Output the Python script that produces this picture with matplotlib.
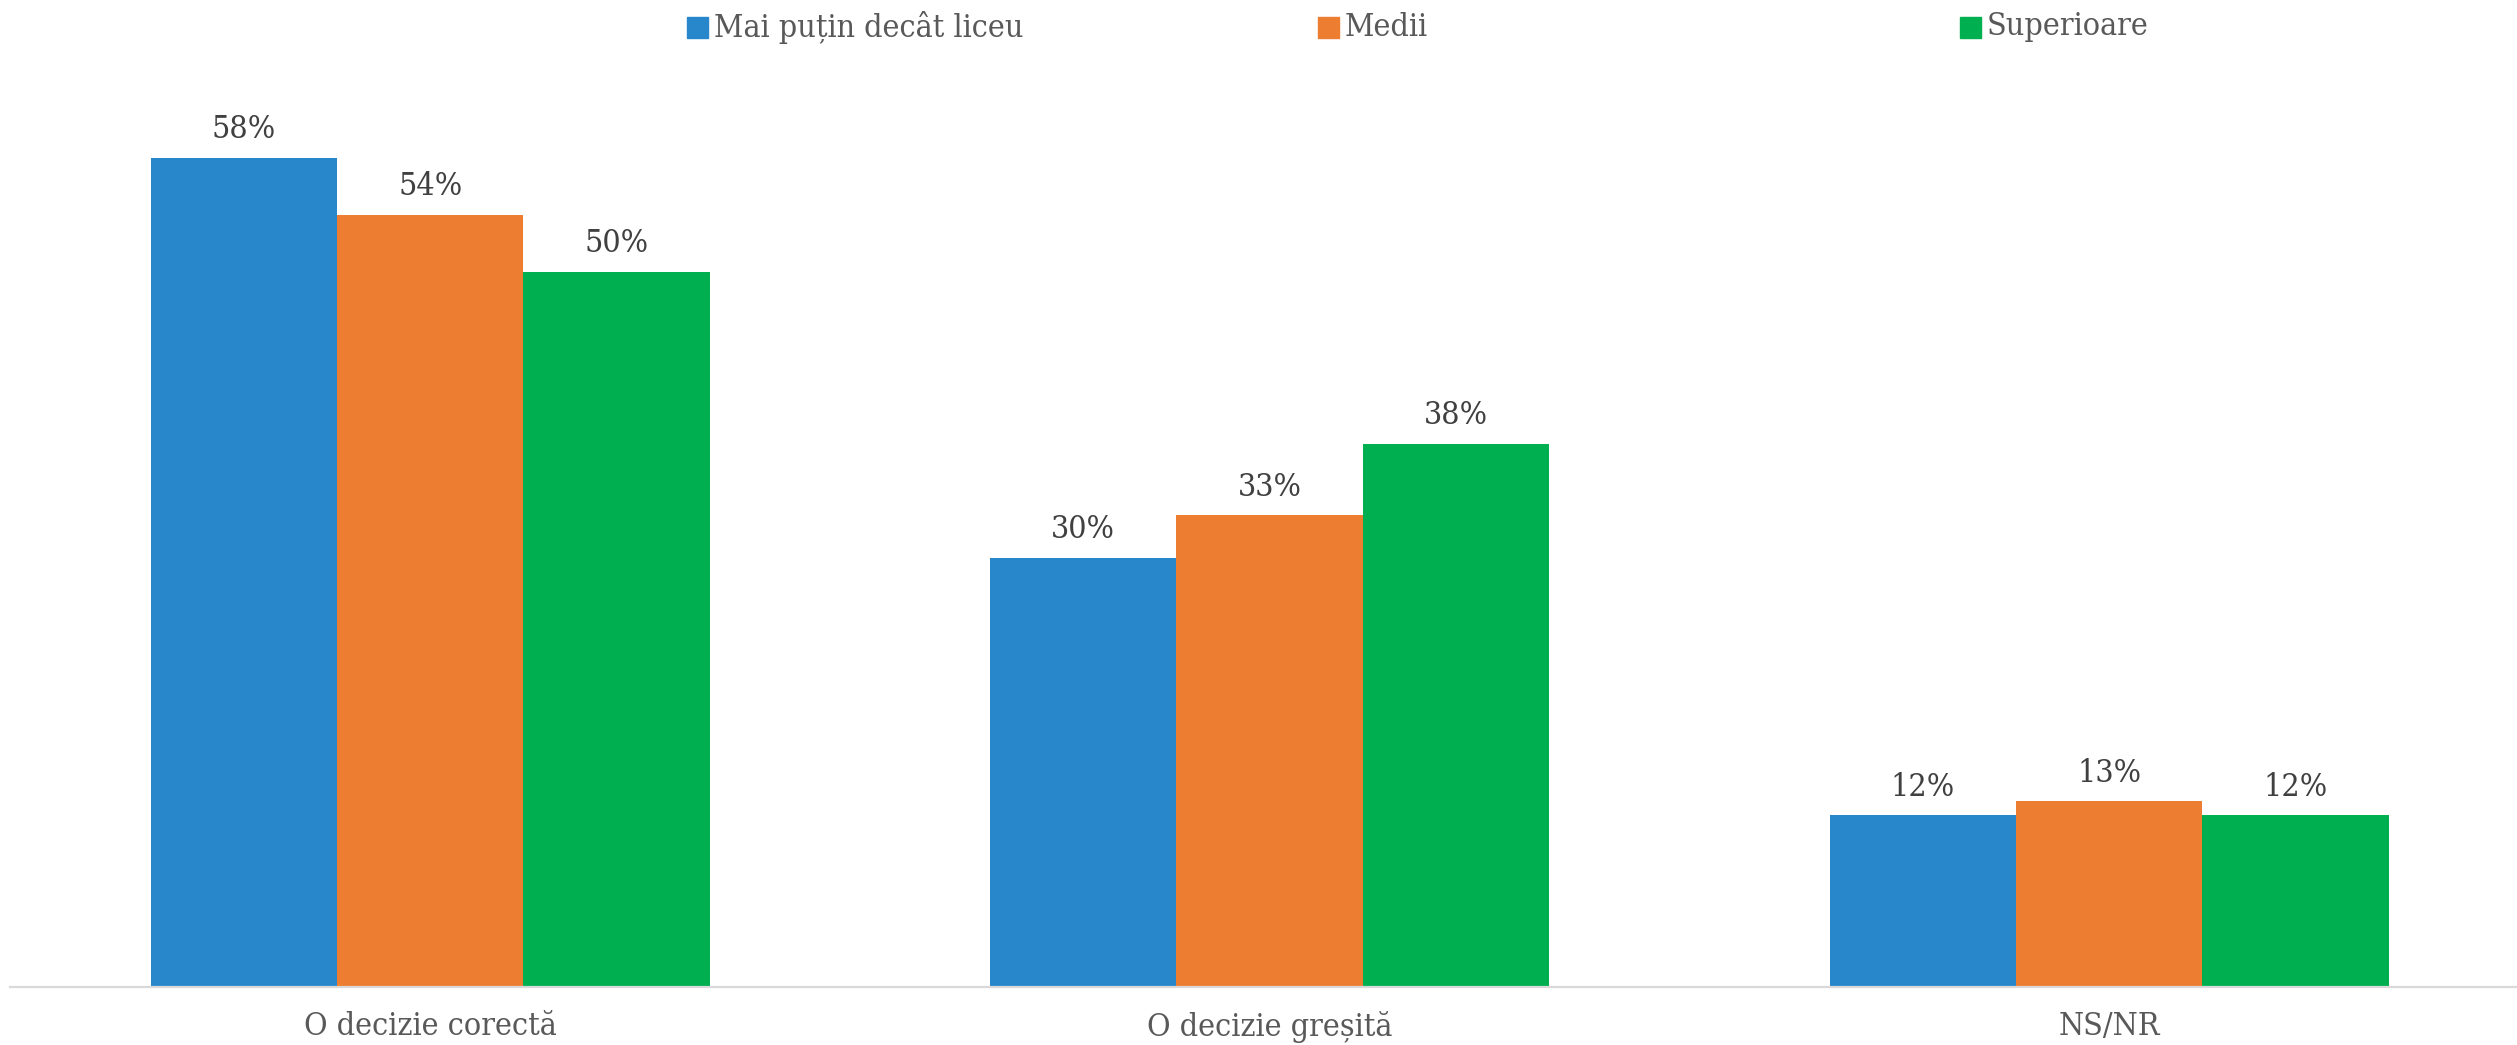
import matplotlib.pyplot as plt
import numpy as np
from matplotlib.patches import Rectangle

# data
categories = ['O decizie corectă', 'O decizie greșită', 'NS/NR']
series_names = ['Mai puțin decât liceu', 'Medii', 'Superioare']
less_than_hs = [58, 30, 12]
medium = [54, 33, 13]
higher = [50, 38, 12]
colors = ['#2886CB', '#ED7D31', '#00B050']

plt.rcParams['font.family'] = ['DejaVu Serif']
plt.rcParams['font.stretch'] = 'condensed'
fs = 23
txt_col = '#595959'

W, H = 2517, 1045
fig = plt.figure(figsize=(W/100, H/100), dpi=100)
ax = fig.add_axes([10.4/W, 1 - 987/H, 2518.5/W, (987 - 57.5)/H])

x = np.arange(len(categories))
bw = 0.222
series = [less_than_hs, medium, higher]
for i, vals in enumerate(series):
    bars = ax.bar(x + (i - 1)*bw, vals, bw, color=colors[i], linewidth=0)
    for b, v in zip(bars, vals):
        ax.annotate('%d%%' % v, (b.get_x() + b.get_width()/2, v),
                    xytext=(0, 9), textcoords='offset points',
                    ha='center', va='bottom', fontsize=fs, color='#404040')

ax.set_xlim(-0.5, 2.5)
ax.set_ylim(0, 65)
ax.set_xticks(x)
ax.set_xticklabels(categories, fontsize=fs, color=txt_col)
ax.tick_params(axis='x', length=0, pad=17)
ax.set_yticks([])
for s in ['top', 'left', 'right']:
    ax.spines[s].set_visible(False)
ax.spines['bottom'].set_color('#D9D9D9')
ax.spines['bottom'].set_linewidth(1.6)

# legend drawn by hand to keep the even spacing
leg_x = [687, 1318, 1960]
sq = 21
for i, name in enumerate(series_names):
    fig.patches.append(Rectangle((leg_x[i]/W, 1 - (27 + sq/2)/H), sq/W, sq/H,
                                 transform=fig.transFigure, color=colors[i]))
    fig.text((leg_x[i] + sq + 6)/W, 1 - 27/H, name, fontsize=fs,
             color=txt_col, ha='left', va='center')

plt.savefig('out.png', dpi=100)
